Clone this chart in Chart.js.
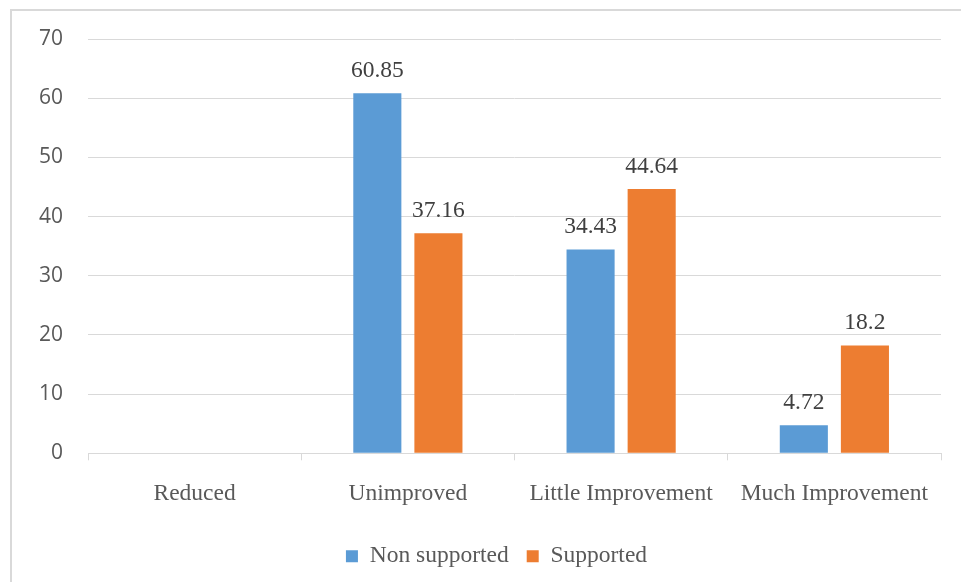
<!DOCTYPE html>
<html>
<head>
<meta charset="utf-8">
<script src="https://cdn.jsdelivr.net/npm/chart.js@4/dist/chart.umd.min.js"></script>
<style>
  html, body { margin: 0; padding: 0; background: #ffffff; }
  #wrap { position: relative; width: 961px; height: 582px; }
</style>
</head>
<body>
<div id="wrap"><canvas id="chart" width="961" height="582"></canvas></div>
<script>
const categories = ['Reduced', 'Unimproved', 'Little Improvement', 'Much Improvement'];
const nonSupported = [null, 60.85, 34.43, 4.72];
const supported = [null, 37.16, 44.64, 18.2];
const yTicks = [0, 10, 20, 30, 40, 50, 60, 70];

const SERIF = "'Liberation Serif', 'Times New Roman', serif";
const SANS = "'Open Sans', 'Liberation Sans', sans-serif";
const TEXT = '#595959';
const GRID = '#d9d9d9';

// Light frame along the top and left edges of the chart
const framePlugin = {
  id: 'frame',
  beforeDraw(chart) {
    const ctx = chart.ctx;
    ctx.save();
    ctx.strokeStyle = GRID;
    ctx.lineWidth = 2;
    ctx.beginPath();
    ctx.moveTo(11, chart.height);
    ctx.lineTo(11, 10);
    ctx.lineTo(chart.width, 10);
    ctx.stroke();
    ctx.restore();
  }
};

// Centre the legend under the plot rather than the whole canvas
const legendShift = {
  id: 'legendShift',
  afterLayout(chart) {
    if (chart.legend) chart.legend.left += 42;
  }
};

// Value labels above each bar
const valueLabels = {
  id: 'valueLabels',
  afterDatasetsDraw(chart) {
    const ctx = chart.ctx;
    ctx.save();
    ctx.font = '23.5px ' + SERIF;
    ctx.fillStyle = '#404040';
    ctx.textAlign = 'center';
    ctx.textBaseline = 'alphabetic';
    chart.data.datasets.forEach((ds, i) => {
      const meta = chart.getDatasetMeta(i);
      meta.data.forEach((bar, j) => {
        const v = ds.data[j];
        if (v === null || v === undefined) return;
        ctx.fillText(String(v), bar.x, bar.y - 16.5);
      });
    });
    ctx.restore();
  }
};

new Chart(document.getElementById('chart'), {
  type: 'bar',
  data: {
    labels: categories,
    datasets: [
      { label: 'Non supported', data: nonSupported, backgroundColor: '#5B9BD5' },
      { label: 'Supported', data: supported, backgroundColor: '#ED7D31' }
    ]
  },
  options: {
    responsive: false,
    animation: false,
    layout: { padding: { left: 10, right: 20, top: 39, bottom: 4 } },
    datasets: { bar: { categoryPercentage: 0.573, barPercentage: 0.787 } },
    scales: {
      x: {
        grid: { drawOnChartArea: false, drawTicks: true, tickLength: 7, color: GRID, offset: true },
        border: { display: true, color: GRID },
        ticks: { color: TEXT, font: { family: SERIF, size: 23.5 }, padding: 19, maxRotation: 0, autoSkip: false }
      },
      y: {
        min: 0,
        max: 70,
        afterBuildTicks(scale) { scale.ticks = yTicks.map(v => ({ value: v })); },
        afterFit(scale) { scale.width = 78; },
        grid: { color: GRID, drawTicks: false },
        border: { display: false },
        ticks: { color: TEXT, font: { family: SANS, size: 21 }, padding: 25 }
      }
    },
    plugins: {
      legend: {
        position: 'bottom',
        labels: { boxWidth: 12, boxHeight: 12, color: TEXT, font: { family: SERIF, size: 23.5 }, padding: 18 }
      },
      tooltip: { enabled: false }
    }
  },
  plugins: [framePlugin, legendShift, valueLabels]
});
</script>
</body>
</html>
